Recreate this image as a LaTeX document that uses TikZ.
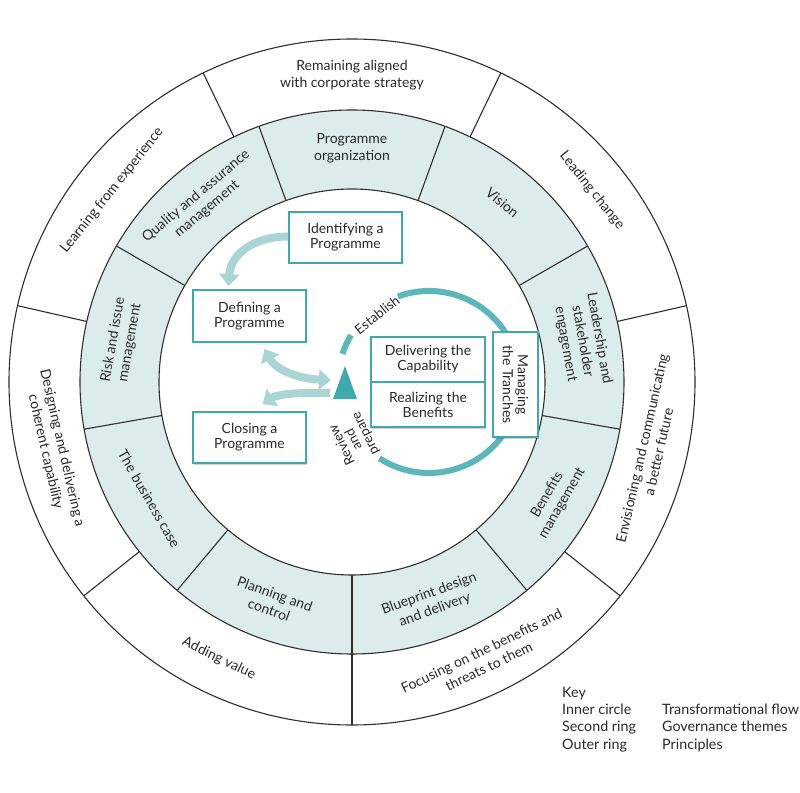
\documentclass[tikz,border=0pt]{standalone}
\usepackage{fontspec}
\setmainfont{Lato}
\usetikzlibrary{arrows.meta,shadows}
\definecolor{ringfill}{HTML}{DCECEC}
\definecolor{tealdark}{HTML}{3FA9AE}
\definecolor{tealarc}{HTML}{5DB6B9}
\definecolor{teallight}{HTML}{A9D5D5}
\definecolor{txt}{HTML}{2A2A2A}
\definecolor{lineg}{HTML}{2F2F2F}
\begin{document}
\begin{tikzpicture}[x=1pt,y=1pt,
  ringline/.style={draw=lineg, line width=1.1pt},
  ringtext/.style={text=txt, align=center, font=\fontsize{14}{17}\selectfont, inner sep=0pt},
  flowbox/.style={draw=tealdark, line width=1.8pt, fill=white, text=txt, align=center,
    font=\fontsize{14}{15}\selectfont, inner sep=0pt,
    drop shadow={shadow xshift=1.2pt, shadow yshift=-1.5pt, fill=black, opacity=0.18}},
  flowarrow/.style={draw=teallight, line width=8pt, -{Triangle[width=20pt,length=12pt]}},
  flowarrowboth/.style={draw=teallight, line width=8pt, {Triangle[width=20pt,length=12pt]}-{Triangle[width=20pt,length=12pt]}},
  cyclearc/.style={draw=tealarc, line width=6pt},
  cyclelabel/.style={text=txt, font=\fontsize{13.5}{13}\selectfont, align=center, inner sep=0pt},
  keytext/.style={text=txt, font=\fontsize{14.3}{17}\selectfont, inner sep=0pt, anchor=mid west}
]
\useasboundingbox (-352,-410) rectangle (448,382);
\fill[white] (-352,-410) rectangle (448,382);

% second ring fill
\fill[ringfill, even odd rule] (0,0) circle (272) (0,0) circle (193);
% circles
\draw[ringline] (0,0) circle (343);
\draw[ringline] (0,0) circle (272);
\draw[ringline] (0,0) circle (193);
% outer ring dividers
\foreach \a in {64.2857,12.8571,-38.5714,-90,-141.4286,167.1429,115.7143}
  \draw[ringline] (\a:272) -- (\a:343);
% second ring dividers
\foreach \a in {70,30,-10,-50,-90,-130,-170,150,110}
  \draw[ringline] (\a:193) -- (\a:272);

% outer ring texts (principles)
\node[ringtext] (p1) at (90:307) {Remaining aligned\\with corporate strategy};
\node[ringtext, rotate=-51.43] (p2) at (38.57:307) {Leading change};
\node[ringtext, rotate=77.14] (p3) at (-12.86:306) {Envisioning and communicating\\a better future};
\node[ringtext, rotate=25.71] (p4) at (-64.29:307) {Focusing on the benefits and\\threats to them};
\node[ringtext, rotate=-25.71] (p5) at (-115.71:307) {Adding value};
\node[ringtext, rotate=-77.14] (p6) at (-167.14:306) {Designing and delivering a\\coherent capability};
\node[ringtext, rotate=51.43] (p7) at (141.43:307) {Learning from experience};

% second ring texts (governance themes)
\node[ringtext] (g1) at (90:234) {Programme\\organization};
\node[ringtext, rotate=-40] (g2) at (50:234) {Vision};
\node[ringtext, rotate=-80] (g3) at (10:234) {Leadership and\\stakeholder\\engagement};
\node[ringtext, rotate=60] (g4) at (-30:234) {Benefits\\management};
\node[ringtext, rotate=20] (g5) at (-70:234) {Blueprint design\\and delivery};
\node[ringtext, rotate=-20] (g6) at (-110:234) {Planning and\\control};
\node[ringtext, rotate=-60] (g7) at (-150:234) {The business case};
\node[ringtext, rotate=80] (g8) at (170:234) {Risk and issue\\management};
\node[ringtext, rotate=40] (g9) at (130:234) {Quality and assurance\\management};

% tranche cycle arc
\coordinate (cc) at (77,0);
\draw[cyclearc] (cc) ++(110:91) arc[start angle=110, end angle=-123, radius=91];
\draw[cyclearc] (cc) ++(149:91) arc[start angle=149, end angle=162, radius=91];
\node[cyclelabel, rotate=38] (est) at (25,67) {Establish};
\node[cyclelabel, rotate=116] (rev) at (2,-57) {Review\\and\\prepare};

% boxes
\node[flowbox, minimum width=113pt, minimum height=51pt] (ident) at (-6.5,144.5) {Identifying a\\Programme};
\node[flowbox, minimum width=113pt, minimum height=52pt] (defin) at (-102.5,66) {Defining a\\Programme};
\node[flowbox, minimum width=113pt, minimum height=51pt] (close) at (-102.5,-55.5) {Closing a\\Programme};
\node[flowbox, minimum width=114pt, minimum height=45pt] (deliv) at (76,22.5) {Delivering the\\Capability};
\node[flowbox, minimum width=114pt, minimum height=45pt] (realz) at (76,-22.5) {Realizing the\\Benefits};
\node[flowbox, minimum width=105pt, minimum height=45pt, rotate=-90] (manag) at (163.5,-2.5) {Managing\\the Tranches};

% triangle
\fill[tealdark] (-7,16) -- (-19,-17) -- (5,-17) -- cycle;
\coordinate (triA) at (-21,2);
\coordinate (triB) at (-22,-11);

% flow arrows
\draw[flowarrow] ([yshift=1pt]ident.west) .. controls +(-37,0) and +(2,30) .. ([xshift=-21pt,yshift=3pt]defin.north);
\draw[flowarrowboth] ([xshift=15pt,yshift=-6pt]defin.south) .. controls +(12,-22) and +(-30,1) .. (triA);
\draw[flowarrow] (triB) .. controls +(-28,1) and +(15,10) .. ([xshift=13pt,yshift=7pt]close.north);

% key
\node[keytext] (k0) at (210,-313) {Key};
\node[keytext] (k1) at (210,-330) {Inner circle};
\node[keytext] (k2) at (210,-347) {Second ring};
\node[keytext] (k3) at (210,-365) {Outer ring};
\node[keytext] (k4) at (310,-330) {Transformational flow};
\node[keytext] (k5) at (310,-347) {Governance themes};
\node[keytext] (k6) at (310,-365) {Principles};
\end{tikzpicture}
\end{document}
